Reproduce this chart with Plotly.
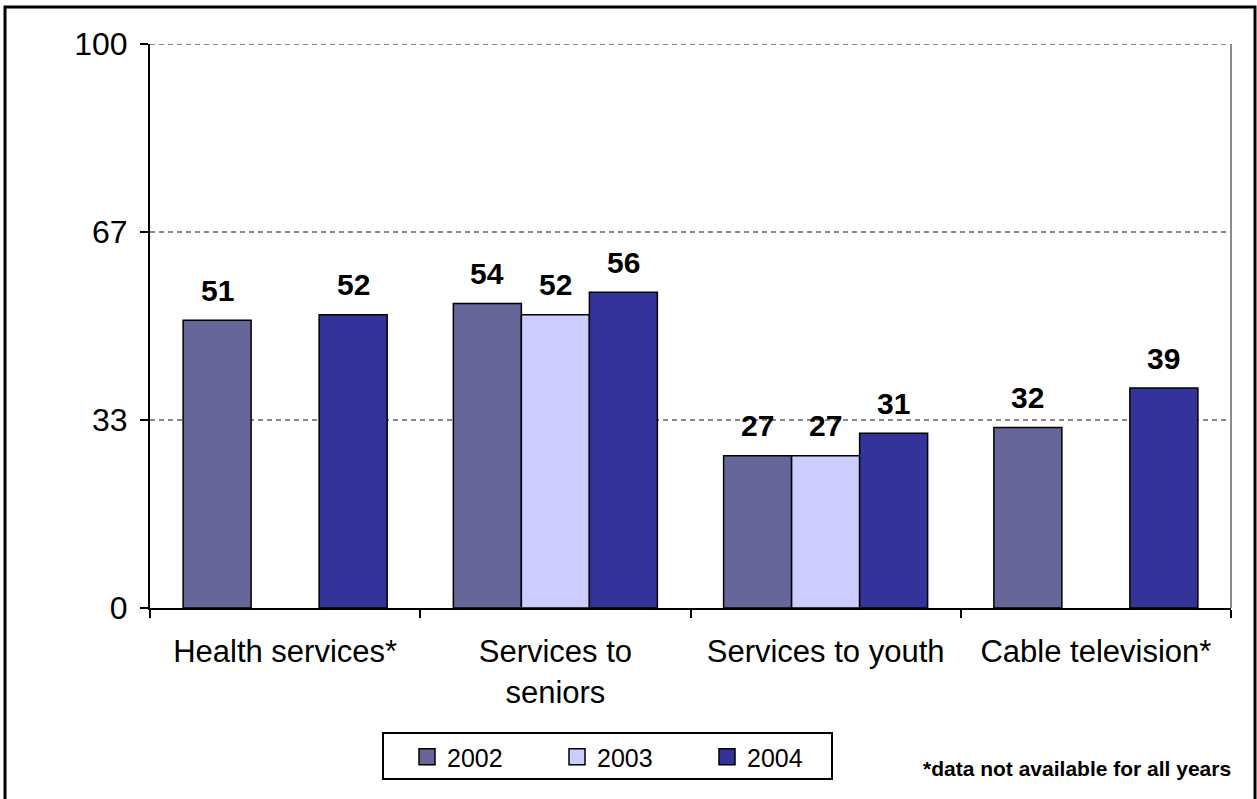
import plotly.graph_objects as go

# Survey results by service area and year
categories = ["Health services*", "Services to<br>seniors", "Services to youth", "Cable television*"]
years = ["2002", "2003", "2004"]
values_2002 = [51, 54, 27, 32]
values_2003 = [None, 52, 27, None]
values_2004 = [52, 56, 31, 39]
series = [values_2002, values_2003, values_2004]
colors = ["#666699", "#CCCCFF", "#333399"]

ytick_vals = [0, 100 / 3, 200 / 3, 100]
ytick_text = ["0", "33", "67", "100"]
footnote = "*data not available for all years"

FONT = "Arial, Liberation Sans, sans-serif"
W, H = 1257, 799
M_L, M_R, M_T, M_B = 150, 26, 44, 191
BARGAP = 0.245
GRID = dict(color="#888888", width=2, dash="5px,4px")


def px_x(px):
    return (px - M_L) / (W - M_L - M_R)


def px_y(py):
    return (H - M_B - py) / (H - M_T - M_B)


fig = go.Figure()
for name, vals, col in zip(years, series, colors):
    fig.add_trace(go.Bar(
        x=categories, y=vals, name=name,
        marker=dict(color=col, line=dict(color="black", width=1.5)),
        showlegend=False, hoverinfo="skip",
    ))
# legend swatches with larger square symbols
for name, col in zip(years, colors):
    fig.add_trace(go.Scatter(
        x=[None], y=[None], mode="markers", name=name,
        marker=dict(symbol="square", size=16, color=col,
                    line=dict(color="black", width=1.5)),
        showlegend=True,
    ))

# value labels above each bar
plot_w = W - M_L - M_R
bar_px = plot_w / len(categories) * (1 - BARGAP) / len(series)
annotations = []
for i, vals in enumerate(series):
    for cat, v in zip(categories, vals):
        if v is None:
            continue
        annotations.append(dict(
            x=cat, y=v, xref="x", yref="y", text=f"<b>{v}</b>",
            showarrow=False, xshift=(i - 1) * bar_px, yshift=30,
            yanchor="middle", font=dict(family=FONT, size=30, color="black"),
        ))
annotations.append(dict(
    x=px_x(1233), y=px_y(768), xref="paper", yref="paper", text=f"<b>{footnote}</b>",
    showarrow=False, xanchor="right", yanchor="middle",
    font=dict(family=FONT, size=21, color="black"),
))

shapes = [
    # top gridline at 100
    dict(type="line", xref="paper", yref="y", x0=0, x1=1, y0=100, y1=100, line=GRID),
    # right edge of plotting area
    dict(type="line", xref="paper", yref="paper", x0=1, x1=1, y0=0, y1=1,
         line=dict(color="#8c8c8c", width=2)),
    # legend frame
    dict(type="rect", xref="paper", yref="paper",
         x0=px_x(383), x1=px_x(832), y0=px_y(779), y1=px_y(733),
         line=dict(color="black", width=2)),
    # outer frame
    dict(type="rect", xref="paper", yref="paper",
         x0=px_x(5), x1=px_x(1255), y0=px_y(805), y1=px_y(7),
         line=dict(color="black", width=3)),
]

fig.update_layout(
    width=W, height=H,
    margin=dict(l=M_L, r=M_R, t=M_T, b=M_B),
    plot_bgcolor="white", paper_bgcolor="white",
    barmode="group", bargap=BARGAP, bargroupgap=0,
    font=dict(family=FONT, color="black"),
    annotations=annotations, shapes=shapes,
    legend=dict(
        orientation="h", x=px_x(407), y=px_y(734), xanchor="left", yanchor="top",
        font=dict(family=FONT, size=25, color="black"),
        borderwidth=0, bgcolor="rgba(0,0,0,0)",
        entrywidth=105, entrywidthmode="pixels",
    ),
    xaxis=dict(
        type="category", tickson="boundaries", ticks="outside", ticklen=8,
        tickwidth=2, tickcolor="black", showline=True, linecolor="black",
        linewidth=2, showgrid=False, tickfont=dict(family=FONT, size=31),
        ticklabelstandoff=15,
    ),
    yaxis=dict(
        range=[0, 100], tickvals=ytick_vals, ticktext=ytick_text,
        ticks="outside", ticklen=8, tickwidth=2, tickcolor="black",
        showline=True, linecolor="black", linewidth=2,
        showgrid=True, gridcolor=GRID["color"], gridwidth=GRID["width"],
        griddash=GRID["dash"], zeroline=False,
        tickfont=dict(family=FONT, size=32), ticklabelstandoff=6,
    ),
)

fig.write_html("out.html")
